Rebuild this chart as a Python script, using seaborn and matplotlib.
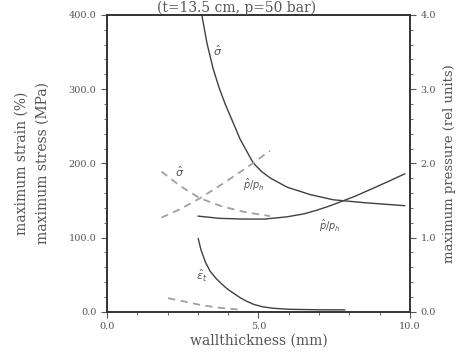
import matplotlib
matplotlib.use("Agg")
import matplotlib.pyplot as plt
import seaborn as sns
import numpy as np
import pandas as pd
from matplotlib.ticker import MultipleLocator, FormatStrFormatter

# wallthickness (mm) and read-off values
x_stress = [3.13, 3.3, 3.5, 3.7, 3.9, 4.12, 4.4, 4.82, 5.1, 5.4, 5.94, 6.7, 7.46, 8.5, 9.83]
y_stress = [400, 362, 328, 302, 280, 259, 232, 201, 189, 180, 168, 158, 151, 147, 143]

x_press = [3.0, 3.7, 4.49, 5.2, 5.94, 6.5, 6.93, 7.3, 7.69, 8.2, 8.7, 9.3, 9.83]
y_press = [1.29, 1.26, 1.25, 1.25, 1.28, 1.32, 1.37, 1.42, 1.48, 1.56, 1.65, 1.76, 1.86]

x_stress_d = [1.8, 2.4, 3.07, 3.8, 4.6, 5.38]
y_stress_d = [189, 170, 153, 142, 134, 129]

x_press_d = [1.8, 2.4, 3.07, 3.8, 4.6, 5.38]
y_press_d = [1.27, 1.38, 1.53, 1.72, 1.94, 2.17]

x_strain = [3.01, 3.1, 3.25, 3.4, 3.6, 3.8, 4.0, 4.16, 4.4, 4.6, 4.85, 5.15, 5.5, 6.0, 7.0, 7.85]
y_strain = [99, 84, 67, 55, 45, 37, 30, 25.6, 19, 14.5, 10, 6.7, 4.8, 3.5, 2.8, 2.7]

x_strain_d = [2.02, 2.5, 3.07, 3.7, 4.49]
y_strain_d = [18.4, 14.5, 9.4, 5.5, 2.7]

sns.set_style("ticks")
plt.rcParams['font.family'] = ['DejaVu Serif']

fig = plt.figure(figsize=(4.73, 3.54), dpi=100)
ax = fig.add_axes([0.226, 0.119, 0.641, 0.839])
ax2 = ax.twinx()

solid = "#404040"
dashc = "#a0a0a0"

sns.lineplot(x=x_stress, y=y_stress, ax=ax, color=solid, lw=1.0)
sns.lineplot(x=x_strain, y=y_strain, ax=ax, color=solid, lw=1.0)
sns.lineplot(x=x_stress_d, y=y_stress_d, ax=ax, color=dashc, lw=1.3, linestyle=(0, (4, 3)))
sns.lineplot(x=x_strain_d, y=y_strain_d, ax=ax, color=dashc, lw=1.3, linestyle=(0, (4, 3)))
sns.lineplot(x=x_press, y=y_press, ax=ax2, color=solid, lw=1.0)
sns.lineplot(x=x_press_d, y=y_press_d, ax=ax2, color=dashc, lw=1.3, linestyle=(0, (4, 3)))

ax.set_xlim(0, 10)
ax.set_ylim(0, 400)
ax2.set_ylim(0, 4)
ax.xaxis.set_major_locator(MultipleLocator(5))
ax.xaxis.set_minor_locator(MultipleLocator(1))
ax.yaxis.set_major_locator(MultipleLocator(100))
ax.yaxis.set_minor_locator(MultipleLocator(20))
ax2.yaxis.set_major_locator(MultipleLocator(1))
ax2.yaxis.set_minor_locator(MultipleLocator(0.2))
ax.xaxis.set_major_formatter(FormatStrFormatter('%.1f'))
ax.yaxis.set_major_formatter(FormatStrFormatter('%.1f'))
ax2.yaxis.set_major_formatter(FormatStrFormatter('%.1f'))

tc = "#555555"
for a in (ax, ax2):
    a.tick_params(which='major', length=4, width=0.8, labelsize=7, colors=tc, labelcolor=tc)
    a.tick_params(which='minor', length=2, width=0.6, colors=tc)
    for s in a.spines.values():
        s.set_linewidth(1.2)
        s.set_color("#333333")

ax.set_xlabel("wallthickness (mm)", fontsize=10, color=tc, labelpad=2)
ax.set_ylabel("")
ax2.set_ylabel("maximum pressure (rel units)", fontsize=9.5, color=tc, labelpad=5)
fig.text(0.045, 0.54, "maximum strain (%)", rotation=90, fontsize=10, color=tc,
         ha='center', va='center')
fig.text(0.09, 0.54, "maximum stress (MPa)", rotation=90, fontsize=10, color=tc,
         ha='center', va='center')

fig.text(0.5, 0.978, "(t=13.5 cm, p=50 bar)", fontsize=10, color=tc, ha='center', va='center')

ax.text(3.5, 345, r"$\hat{\sigma}$", fontsize=8, color=tc)
ax.text(2.25, 182, r"$\hat{\sigma}$", fontsize=8, color=tc)
ax.text(4.5, 165, r"$\hat{p}/p_h$", fontsize=7, color=tc)
ax.text(7.0, 110, r"$\hat{p}/p_h$", fontsize=7, color=tc)
ax.text(2.95, 42, r"$\hat{\varepsilon}_t$", fontsize=8, color=tc)

fig.savefig("out.png", dpi=100)
